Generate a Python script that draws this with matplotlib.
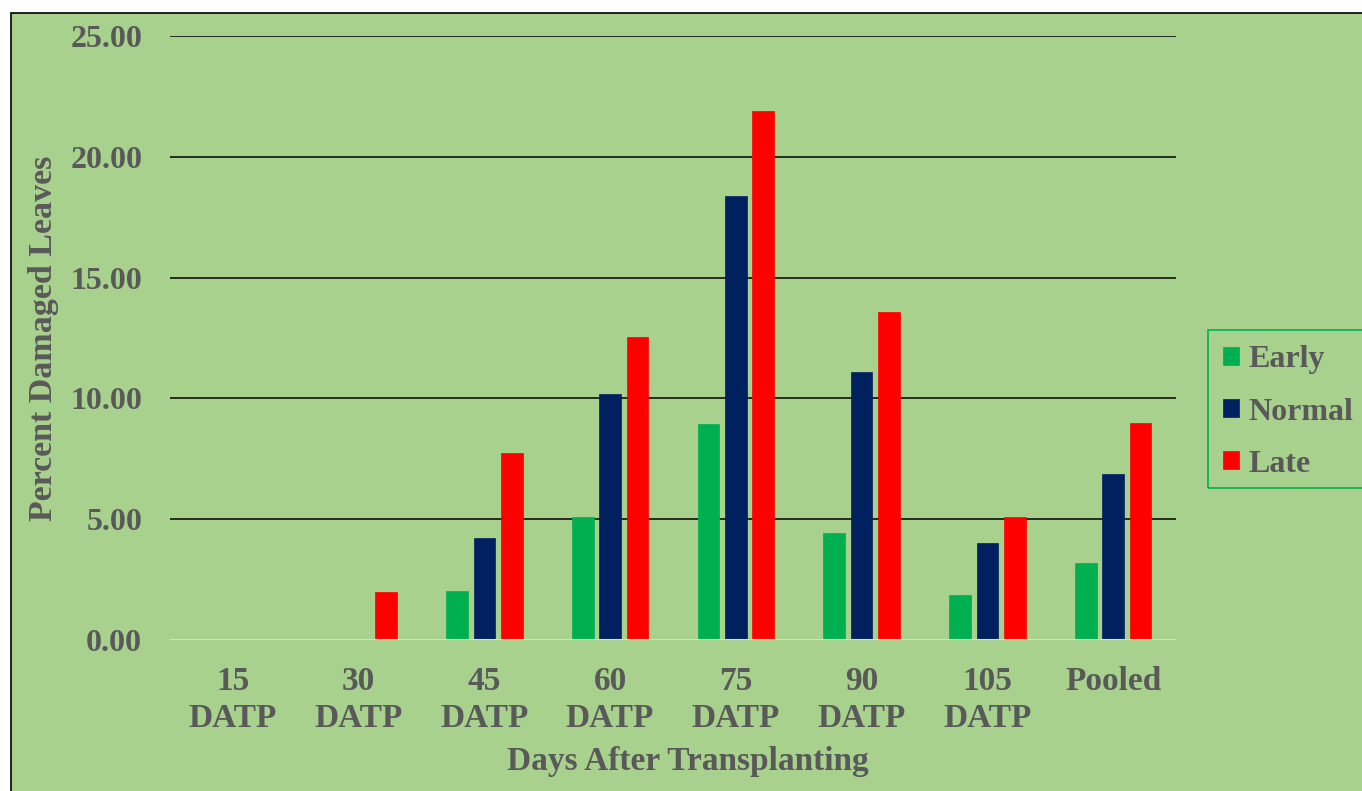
import matplotlib.pyplot as plt
import numpy as np
from matplotlib.patches import Rectangle

# Leaf damage by days after transplanting, three transplanting dates
stages = ['15\nDATP', '30\nDATP', '45\nDATP', '60\nDATP', '75\nDATP',
          '90\nDATP', '105\nDATP', 'Pooled']
early = [0.0, 0.0, 2.04, 5.09, 8.93, 4.44, 1.86, 3.20]
normal = [0.0, 0.0, 4.21, 10.20, 18.37, 11.08, 4.03, 6.86]
late = [0.0, 1.99, 7.73, 12.56, 21.90, 13.57, 5.11, 8.97]
yticks = [0, 5, 10, 15, 20, 25]

series = [('Early', early, '#00B050'),
          ('Normal', normal, '#002060'),
          ('Late', late, '#FF0000')]

bg = '#A9D18E'
txt = '#595959'
plt.rcParams['font.family'] = ['Liberation Serif', 'DejaVu Serif']
plt.rcParams['font.weight'] = 'bold'

W, H = 1362, 791
fig = plt.figure(figsize=(W / 100, H / 100), dpi=100, facecolor='white')

# green chart area, clipped at the right and bottom edges
fig.patches.append(Rectangle((11 / W, -0.05), 1.1, 1 - 13 / H + 0.05,
                             transform=fig.transFigure, facecolor=bg,
                             edgecolor='black', linewidth=1.2, zorder=-10))

ax = fig.add_axes([170 / W, 1 - 640 / H, 1006 / W, 604 / H])
ax.set_facecolor('none')

x = np.arange(len(stages))
bw = 0.172
step = 0.218
for i, (name, vals, col) in enumerate(series):
    ax.bar(x + (i - 1) * step, vals, width=bw, color=col, label=name,
           edgecolor=col, linewidth=0.5, zorder=3)

ax.set_xlim(-0.5, len(stages) - 0.5)
ax.set_ylim(0, 25)
ax.set_yticks(yticks)
ax.set_yticklabels([f'{v:.2f}' for v in yticks])
ax.set_xticks(x)
ax.set_xticklabels(stages, linespacing=1.22)
ax.tick_params(axis='y', length=0, pad=20, labelsize=23, labelcolor=txt)
ax.tick_params(axis='x', length=0, pad=19, labelsize=24, labelcolor=txt)

for v in yticks[1:]:
    ax.axhline(v, color='black', linewidth=1.1, zorder=1)
ax.axhline(0, color='#D9D9D9', linewidth=1.5, zorder=4)
for s in ax.spines.values():
    s.set_visible(False)

fig.text(44 / W, 1 - 338 / H, 'Percent Damaged Leaves', rotation=90,
         ha='center', va='center', fontsize=24.5, color=txt, fontweight='bold')
fig.text(688 / W, 1 - 770 / H, 'Days After Transplanting', ha='center',
         va='baseline', fontsize=24, color=txt, fontweight='bold')

# legend box runs off the right edge
fig.patches.append(Rectangle((1208 / W, 1 - 488 / H), 0.2, 158 / H,
                             transform=fig.transFigure, facecolor='none',
                             edgecolor='#00B050', linewidth=1.2, zorder=2))
leg = fig.legend(loc='center left', bbox_to_anchor=(1220 / W, 1 - 412 / H),
                 frameon=False, fontsize=23, labelcolor=txt,
                 handlelength=0.5, handleheight=0.5, handletextpad=0.28,
                 labelspacing=0.72, borderpad=0.1, borderaxespad=0)

fig.savefig('out.png', dpi=100, facecolor='white')
